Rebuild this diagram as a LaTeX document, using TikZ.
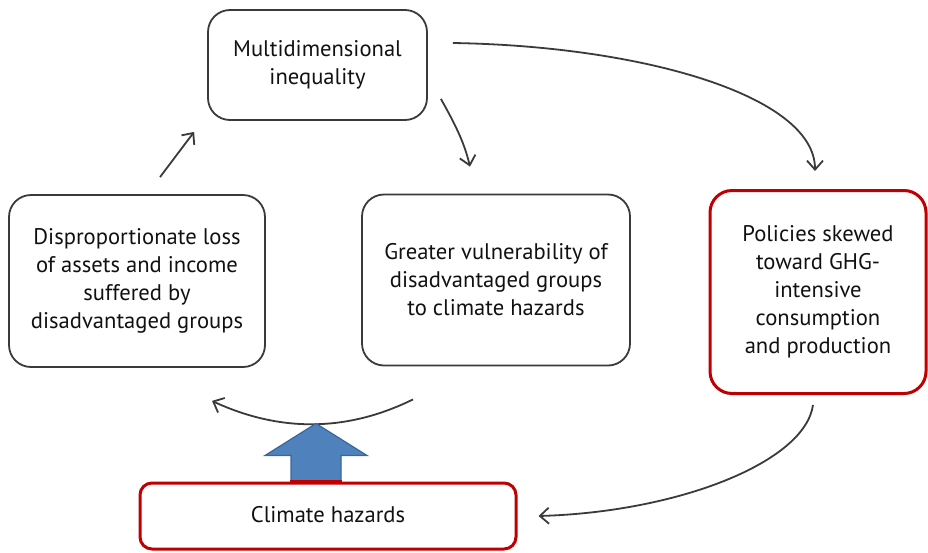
\documentclass[tikz,border=0pt]{standalone}
\usepackage{fontspec}
\setmainfont{PT Sans}
\usetikzlibrary{arrows.meta}
\definecolor{boxred}{HTML}{C00000}
\definecolor{linegray}{HTML}{3A3A3A}
\definecolor{txt}{HTML}{111111}
\definecolor{blueA}{HTML}{4F81BD}
\definecolor{blueB}{HTML}{3A679B}
\tikzset{
  boxtxt/.style={font=\fontsize{22.6}{28}\selectfont, text=txt, align=center},
  blackbox/.style={boxtxt, draw=linegray, line width=1.8pt, rounded corners=22pt, inner sep=0pt},
  redbox/.style={boxtxt, draw=boxred, line width=3pt, rounded corners=22pt, inner sep=0pt},
  conn/.style={draw=linegray, line width=1.8pt, -{Straight Barb[length=9pt,width=16pt,line width=1.8pt]}}
}
\begin{document}
\begin{tikzpicture}[x=1pt,y=-1pt]
\useasboundingbox (0,0) rectangle (928,552);
\node[blackbox, minimum width=219pt, minimum height=110pt] (top) at (317.5,65) {Multidimensional\\inequality};
\node[blackbox, minimum width=256pt, minimum height=172pt] (disp) at (137,281) {Disproportionate loss\\of assets and income\\suffered by\\disadvantaged groups};
\node[blackbox, minimum width=268pt, minimum height=171pt] (vuln) at (496,280) {Greater vulnerability of\\disadvantaged groups\\to climate hazards};
\node[redbox, minimum width=216pt, minimum height=203pt] (pol) at (818,292) {Policies skewed\\toward GHG-\\intensive\\consumption\\and production};
\node[redbox, rounded corners=12pt, minimum width=376pt, minimum height=66pt] (clim) at (328,516) {\raisebox{4pt}{Climate hazards}};

% arrows
\draw[conn] ([shift={(23,-17)}]disp.north) -- ([shift={(-13,11)}]top.south west);
\draw[conn] ([shift={(13,-22)}]top.south east) .. controls +(14,25) and +(-6,-25) .. ([shift={(-26,-27)}]vuln.north);
\draw[conn] ([shift={(25,-22)}]top.east) .. controls +(190,3) and +(0,-75) .. ([shift={(-3,-18)}]pol.north);
\draw[conn] ([shift={(-5,10)}]pol.south) .. controls +(-8,57) and +(140,-4) .. ([shift={(21,0)}]clim.east);
\draw[conn] ([shift={(-83,33)}]vuln.south) .. controls +(-67,33) and +(67,31) .. ([shift={(75,33)}]disp.south);

% big blue arrow
\coordinate (b) at ([xshift=-12pt]clim.north);
\draw[fill=blueA, draw=blueB, line width=1.2pt, line join=miter]
  ([shift={(-25,0)}]b) -- ([shift={(-25,-26)}]b) -- ([shift={(-51,-26)}]b) -- ([shift={(0,-58)}]b)
  -- ([shift={(51,-26)}]b) -- ([shift={(25,-26)}]b) -- ([shift={(25,0)}]b) -- cycle;
\draw[boxred, line width=3pt] ([shift={(-26,0)}]b) -- ([shift={(26,0)}]b);
\end{tikzpicture}
\end{document}
